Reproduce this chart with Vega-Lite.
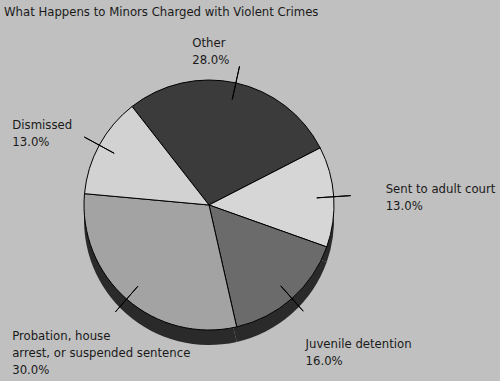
{
  "$schema": "https://vega.github.io/schema/vega-lite/v6.json",
  "autosize": {"type": "none"},
  "width": 418,
  "height": 352,
  "padding": {"left": 0, "right": 82, "top": 29, "bottom": 0},
  "background": "#c0c0c0",
  "view": {"stroke": null},
  "title": {
    "text": "What Happens to Minors Charged with Violent Crimes",
    "anchor": "start",
    "frame": "group",
    "dx": 4,
    "offset": 10,
    "fontSize": 13,
    "fontWeight": "normal",
    "font": "DejaVu Sans Condensed, Roboto",
    "color": "#1a1a1a"
  },
  "data": {
    "values": [
      {"outcome": "Other", "percent": 28, "ord": 1, "label": "Other\n28.0%"},
      {"outcome": "Sent to adult court", "percent": 13, "ord": 2, "label": "Sent to adult court\n13.0%"},
      {"outcome": "Juvenile detention", "percent": 16, "ord": 3, "label": "Juvenile detention\n16.0%"},
      {"outcome": "Probation, house arrest, or suspended sentence", "percent": 30, "ord": 4, "label": "Probation, house\narrest, or suspended sentence\n30.0%"},
      {"outcome": "Dismissed", "percent": 13, "ord": 5, "label": "Dismissed\n13.0%"}
    ]
  },
  "encoding": {
    "theta": {"field": "percent", "type": "quantitative", "stack": true, "scale": {"range": [-0.663, 5.620]}},
    "order": {"field": "ord", "type": "quantitative"}
  },
  "layer": [
    {
      "mark": {"type": "arc", "outerRadius": 125, "yOffset": 15, "fill": "#2a2a2a", "stroke": null}
    },
    {
      "mark": {"type": "arc", "outerRadius": 125, "stroke": "#000000", "strokeWidth": 1},
      "encoding": {
        "color": {
          "field": "outcome", "type": "nominal", "legend": null,
          "scale": {
            "domain": ["Other", "Sent to adult court", "Juvenile detention", "Probation, house arrest, or suspended sentence", "Dismissed"],
            "range": ["#3b3b3b", "#d6d6d6", "#6b6b6b", "#a3a3a3", "#d2d2d2"]
          }
        }
      }
    },
    {
      "mark": {"type": "arc", "innerRadius": 108, "outerRadius": 142, "padAngle": 3, "filled": false, "stroke": "#000000", "strokeWidth": 1}
    },
    {
      "mark": {"type": "text", "radius": 150, "align": "left", "baseline": "alphabetic", "dx": -49, "dy": -12, "fontSize": 13, "lineHeight": 17, "lineBreak": "\n", "font": "DejaVu Sans Condensed, Roboto", "color": "#1a1a1a"},
      "encoding": {"text": {"condition": {"test": "datum.ord === 1", "field": "label"}, "value": ""}}
    },
    {
      "mark": {"type": "text", "radius": 150, "align": "left", "baseline": "alphabetic", "dx": 27, "dy": -2, "fontSize": 13, "lineHeight": 17, "lineBreak": "\n", "font": "DejaVu Sans Condensed, Roboto", "color": "#1a1a1a"},
      "encoding": {"text": {"condition": {"test": "datum.ord === 2", "field": "label"}, "value": ""}}
    },
    {
      "mark": {"type": "text", "radius": 150, "align": "left", "baseline": "alphabetic", "dx": -3, "dy": 31, "fontSize": 13, "lineHeight": 17, "lineBreak": "\n", "font": "DejaVu Sans Condensed, Roboto", "color": "#1a1a1a"},
      "encoding": {"text": {"condition": {"test": "datum.ord === 3", "field": "label"}, "value": ""}}
    },
    {
      "mark": {"type": "text", "radius": 150, "align": "left", "baseline": "alphabetic", "dx": -98, "dy": 22, "fontSize": 13, "lineHeight": 17, "lineBreak": "\n", "font": "DejaVu Sans Condensed, Roboto", "color": "#1a1a1a"},
      "encoding": {"text": {"condition": {"test": "datum.ord === 4", "field": "label"}, "value": ""}}
    },
    {
      "mark": {"type": "text", "radius": 150, "align": "left", "baseline": "alphabetic", "dx": -65, "dy": -4, "fontSize": 13, "lineHeight": 17, "lineBreak": "\n", "font": "DejaVu Sans Condensed, Roboto", "color": "#1a1a1a"},
      "encoding": {"text": {"condition": {"test": "datum.ord === 5", "field": "label"}, "value": ""}}
    }
  ]
}
